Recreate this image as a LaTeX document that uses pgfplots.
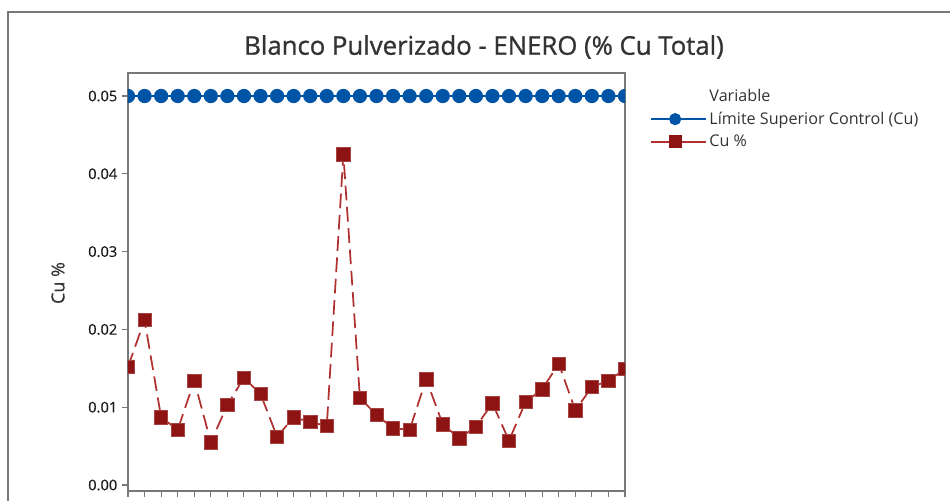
\documentclass[border=0pt]{standalone}
\usepackage{fontspec}
\setmainfont{Open Sans}
\usepackage{pgfplots}
\pgfplotsset{compat=1.18}
\definecolor{lscblue}{RGB}{0,84,166}
\definecolor{cured}{RGB}{142,20,20}
\definecolor{curedline}{RGB}{176,48,48}
\definecolor{framegray}{RGB}{120,120,120}
\definecolor{txt}{RGB}{51,51,51}
\definecolor{ticktxt}{RGB}{25,25,25}
\begin{document}
\begin{tikzpicture}
\begin{axis}[
  at={(0pt,0pt)}, anchor=south west,
  scale only axis,
  width=372.75pt, height=313.5pt,
  xmin=1, xmax=31,
  ymin=-0.00077, ymax=0.05296,
  clip marker paths=true,
  axis line style={framegray, line width=1.1pt},
  tick style={framegray, line width=0.8pt},
  tick align=outside,
  major tick length=4.5pt,
  xtick={1,...,31},
  xticklabels={},
  ytick={0,0.01,0.02,0.03,0.04,0.05},
  yticklabel style={/pgf/number format/fixed, /pgf/number format/fixed zerofill, /pgf/number format/precision=2, font=\fontsize{11pt}{13pt}\selectfont\addfontfeatures{FakeBold=0.3}, text=ticktxt},
  /pgf/number format/assume math mode=true,
  scaled y ticks=false,
  xtick pos=bottom, ytick pos=left,
  legend cell align=left,
  legend style={at={(1.042,0.975)}, anchor=north west, draw=none, fill=none,
    font=\fontsize{12.1pt}{14pt}\selectfont, text=txt, row sep=2.5pt},
  legend image code/.code={\draw[mark repeat=2,mark phase=2,#1] plot coordinates {(0pt,0pt)(18pt,0pt)(36pt,0pt)};
    \path (36pt,0pt) -- (41pt,0pt);},
]
\addlegendimage{empty legend}
\addlegendentry{Variable}
\addlegendimage{lscblue, line width=1.5pt, mark=*, mark size=3.8pt, mark options={fill=lscblue, draw=lscblue}}
\addlegendentry{Límite Superior Control (Cu)}
\addlegendimage{curedline, line width=1.3pt, mark=square*, mark size=4.3pt, mark options={fill=cured, draw=cured}}
\addlegendentry{Cu \%}
\addplot[forget plot, lscblue, line width=1.5pt, mark=*, mark size=4.6pt, mark options={fill=lscblue, draw=lscblue}]
  table[row sep=\\]{x y\\
1 0.05\\ 2 0.05\\ 3 0.05\\ 4 0.05\\ 5 0.05\\ 6 0.05\\ 7 0.05\\ 8 0.05\\ 9 0.05\\ 10 0.05\\
11 0.05\\ 12 0.05\\ 13 0.05\\ 14 0.05\\ 15 0.05\\ 16 0.05\\ 17 0.05\\ 18 0.05\\ 19 0.05\\ 20 0.05\\
21 0.05\\ 22 0.05\\ 23 0.05\\ 24 0.05\\ 25 0.05\\ 26 0.05\\ 27 0.05\\ 28 0.05\\ 29 0.05\\ 30 0.05\\ 31 0.05\\};
\addplot[forget plot, curedline, line width=1.3pt, dash pattern=on 11pt off 5pt, mark=square*, mark size=5pt,
  mark options={solid, fill=cured, draw=cured!80!white, line width=0.5pt}]
  table[row sep=\\]{x y\\
1 0.0152\\ 2 0.0212\\ 3 0.0087\\ 4 0.0071\\ 5 0.0134\\ 6 0.0055\\ 7 0.0103\\ 8 0.0138\\ 9 0.0117\\ 10 0.0062\\
11 0.0087\\ 12 0.0081\\ 13 0.0076\\ 14 0.0425\\ 15 0.0112\\ 16 0.0090\\ 17 0.0073\\ 18 0.0071\\ 19 0.0136\\ 20 0.0078\\
21 0.0060\\ 22 0.0075\\ 23 0.0105\\ 24 0.0057\\ 25 0.0107\\ 26 0.0123\\ 27 0.0156\\ 28 0.0096\\ 29 0.0126\\ 30 0.0134\\ 31 0.0149\\};
\end{axis}
\draw[framegray, line width=1.2pt] (-90pt,-30pt) -- (-90pt,359.25pt) -- (640pt,359.25pt);
\node[text=txt, font=\fontsize{19.3pt}{22pt}\selectfont\addfontfeatures{FakeBold=1}] at (267pt,333pt) {Blanco Pulverizado - ENERO (\% Cu Total)};
\node[text=txt, rotate=90, font=\fontsize{13.5pt}{16pt}\selectfont\addfontfeatures{FakeBold=0.5}] at (-52.5pt,156pt) {Cu \%};
\pgfresetboundingbox
\path[use as bounding box] (-96pt,-6.75pt) rectangle (616.5pt,368.25pt);
\end{tikzpicture}
\end{document}
